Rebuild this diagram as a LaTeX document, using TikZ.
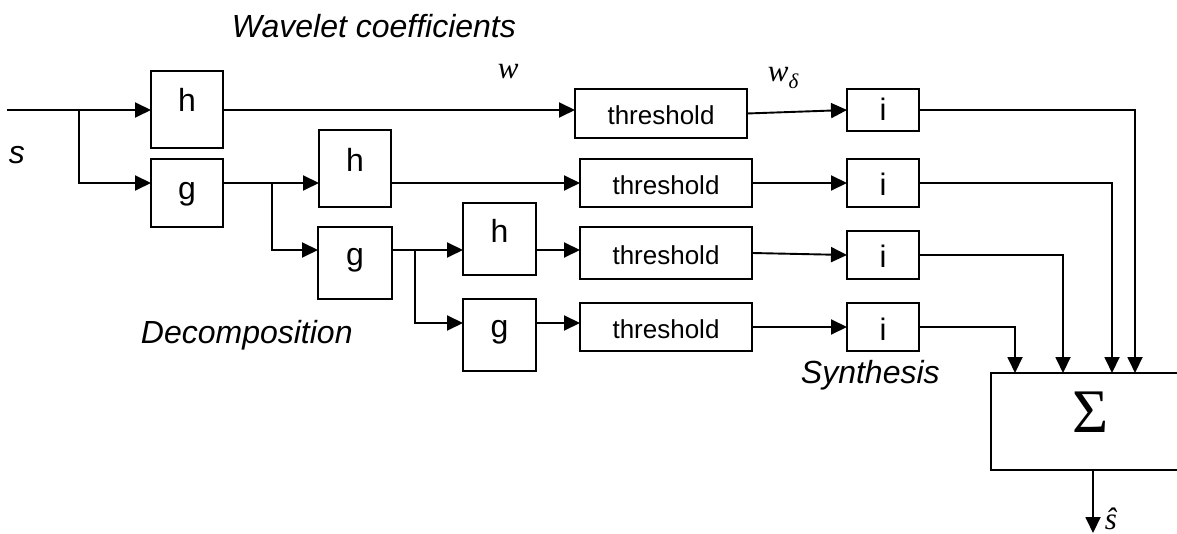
\documentclass[tikz,border=0pt]{standalone}
\usepackage{fontspec}
\setmainfont{Liberation Sans}
\newfontfamily\serifw{Liberation Serif}
\usetikzlibrary{arrows.meta}
\begin{document}
\begin{tikzpicture}[x=1pt,y=-1pt,
  line width=1.9pt,
  box/.style={draw, line width=1.9pt, inner sep=0pt, outer sep=0pt},
  blk/.style={box, font=\fontsize{32}{36}\selectfont, text height=21.5pt, text depth=#1},
  blk/.default=6pt,
  ibox/.style={box, font=\fontsize{31}{36}\selectfont, text height=26pt, text depth=0pt,
    minimum width=72pt, minimum height=48pt},
  thr/.style={box, font=\fontsize{26}{30}\selectfont, text height=23pt, text depth=0pt,
    minimum width=172pt},
  arr/.style={-{Triangle[length=16pt,width=15pt]}},
  lab/.style={font=\fontsize{32}{38}\selectfont\itshape, inner sep=0pt, anchor=base west},
  mlab/.style={font=\fontsize{31}{36}\selectfont\serifw\itshape, inner sep=0pt, anchor=base west}]
\clip (0,0) rectangle (1177,534);
\useasboundingbox (0,0) rectangle (1177,534);

% decomposition blocks
\node[blk=16.5pt, minimum width=72pt, minimum height=77pt] (h1) at (187,109.5) {h};
\node[blk=8pt,    minimum width=72pt, minimum height=68pt] (g1) at (187,193) {g};
\node[blk=14.5pt, minimum width=72pt, minimum height=77pt] (h2) at (355,168.5) {h};
\node[blk=16pt,   minimum width=74pt, minimum height=72pt] (g2) at (355,263) {g};
\node[blk=13.5pt, minimum width=73pt, minimum height=72pt] (h3) at (499.5,239) {h};
\node[blk=16pt,   minimum width=73pt, minimum height=72pt] (g3) at (499.5,335) {g};

% threshold blocks
\node[thr, minimum height=49pt] (T1) at (661,113.5) {threshold};
\node[thr, minimum height=48pt] (T2) at (666,183) {threshold};
\node[thr, minimum height=52pt] (T3) at (666,253) {threshold};
\node[thr, minimum height=48pt] (T4) at (666,327) {threshold};

% synthesis blocks
\node[ibox, minimum height=42pt, text height=22pt] (i1) at (883,110) {i};
\node[ibox] (i2) at (883,183) {i};
\node[ibox] (i3) at (883,255) {i};
\node[ibox] (i4) at (883,327) {i};

% sum block
\node[box, minimum width=199pt, minimum height=97pt,
  font=\fontsize{62}{66}\selectfont\serifw, text height=41pt, text depth=19pt] (Sum) at (1090.5,421.5) {Σ};

% helper coordinates
\coordinate (in) at (7,110);
\coordinate (b1) at (79,110);
\coordinate (y1) at (0,183);
\coordinate (b2) at (272,183);
\coordinate (b3) at (415,250);
\coordinate (y4) at (0,323);
\coordinate (xo1) at (1135,0);
\coordinate (xo2) at (1112,0);
\coordinate (xo3) at (1063,0);
\coordinate (xo4) at (1015,0);
\coordinate (out) at (1093,533);

% decomposition connectors
\draw (in) -- (b1);
\draw[arr] (b1) -- (b1 -| h1.west);
\draw[arr] (b1) |- (g1.west |- y1);
\draw (g1.east |- b2) -- (b2);
\draw[arr] (b2) -- (b2 -| h2.west);
\draw[arr] (b2) |- (g2.west |- b3);
\draw (g2.east |- b3) -- (b3);
\draw[arr] (b3) -- (b3 -| h3.west);
\draw[arr] (b3) |- (g3.west |- y4);

% to thresholds
\draw[arr] (h1.east |- b1) -- (b1 -| T1.west);
\draw[arr] (h2.east |- T2.west) -- (T2.west);
\draw[arr] (h3.east |- b3) -- (b3 -| T3.west);
\draw[arr] (g3.east |- y4) -- (y4 -| T4.west);

% thresholds to synthesis
\draw[arr] (T1.east) -- (i1.west);
\draw[arr] (T2.east) -- (i2.west);
\draw[arr] (T3.east) -- (i3.west);
\draw[arr] (T4.east) -- (i4.west);

% synthesis to sum
\draw[arr] (i1.east) -| (Sum.north -| xo1);
\draw[arr] (i2.east) -| (Sum.north -| xo2);
\draw[arr] (i3.east) -| (Sum.north -| xo3);
\draw[arr] (i4.east) -| (Sum.north -| xo4);
\draw[arr] (Sum.south -| out) -- (out);

% labels
\node[lab] (lwc) at (231,38) {Wavelet coefficients};
\node[lab] (ls) at (8,164) {s};
\node[lab] (ldec) at (140,344) {Decomposition};
\node[lab] (lsyn) at (800,383) {Synthesis};
\node[mlab] (lw) at (497,79) {w};
\node[mlab] (lwd) at (767,82) {w\raisebox{-7pt}{\fontsize{21}{24}\selectfont δ}};
\node[mlab] (lsh) at (1104,529) {ŝ};
\end{tikzpicture}
\end{document}
